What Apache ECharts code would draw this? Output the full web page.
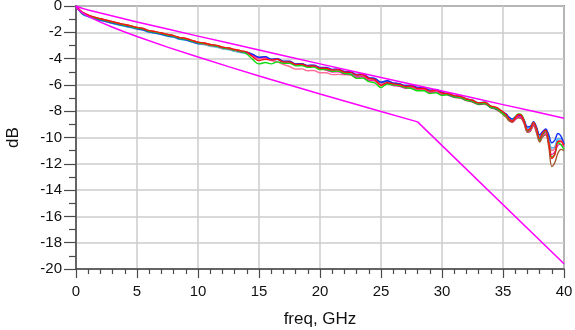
<!DOCTYPE html>
<html>
<head>
<meta charset="utf-8">
<script src="https://cdn.jsdelivr.net/npm/echarts@6/dist/echarts.min.js"></script>
<style>
  html, body { margin: 0; padding: 0; background: #ffffff; }
  #chart { width: 575px; height: 330px; }
</style>
</head>
<body>
<div id="chart"></div>
<script>
// Insertion loss sweeps (dB) versus frequency (GHz) with upper/lower limit masks
const FREQ = [0,0.5,1,1.5,2,2.5,3,3.5,4,4.5,5,5.5,6,6.5,7,7.5,8,8.5,9,9.5,10,10.5,11,11.5,12,12.5,13,13.5,14,14.5,15,15.5,16,16.5,17,17.5,18,18.5,19,19.5,20,20.5,21,21.5,22,22.5,23,23.5,24,24.5,25,25.5,26,26.5,27,27.5,28,28.5,29,29.5,30,30.5,31,31.5,32,32.5,33,33.5,34,34.25,34.5,34.75,35,35.25,35.5,35.75,36,36.25,36.5,36.75,37,37.25,37.5,37.75,38,38.25,38.5,38.75,39,39.25,39.5,39.75,40];

const lossRed = [0,-0.47,-0.69,-0.85,-0.97,-1.08,-1.20,-1.31,-1.41,-1.51,-1.63,-1.71,-1.87,-1.95,-2.05,-2.17,-2.25,-2.40,-2.47,-2.61,-2.75,-2.81,-2.93,-2.99,-3.13,-3.19,-3.31,-3.41,-3.50,-3.88,-4.15,-4.05,-4.10,-4.05,-4.25,-4.25,-4.45,-4.43,-4.57,-4.55,-4.73,-4.73,-4.87,-4.85,-5.03,-5.05,-5.25,-5.23,-5.50,-5.60,-6.05,-5.83,-5.92,-5.97,-6.12,-6.09,-6.27,-6.27,-6.47,-6.42,-6.62,-6.65,-6.82,-6.87,-7.07,-7.17,-7.37,-7.32,-7.62,-7.65,-7.72,-7.88,-8.05,-8.25,-8.6,-8.75,-8.5,-8.25,-8.3,-8.8,-9.45,-9.3,-8.85,-9.35,-10.1,-9.65,-9.45,-10.4,-11.6,-11.3,-10.3,-10.3,-10.6];

const lossGreen = [0,-0.52,-0.74,-0.90,-1.02,-1.13,-1.25,-1.36,-1.46,-1.56,-1.68,-1.76,-1.92,-2.00,-2.10,-2.22,-2.30,-2.45,-2.52,-2.66,-2.80,-2.86,-2.98,-3.04,-3.18,-3.24,-3.36,-3.46,-3.65,-4.08,-4.40,-4.30,-4.40,-4.25,-4.35,-4.35,-4.55,-4.53,-4.67,-4.65,-4.83,-4.83,-4.97,-4.95,-5.13,-5.20,-5.50,-5.48,-5.75,-5.85,-6.20,-5.93,-6.00,-6.05,-6.20,-6.27,-6.45,-6.45,-6.65,-6.60,-6.80,-6.73,-6.90,-6.95,-7.15,-7.25,-7.45,-7.40,-7.70,-7.75,-7.82,-7.98,-8.2,-8.35,-8.65,-8.75,-8.45,-8.2,-8.25,-8.75,-9.5,-9.35,-8.85,-9.35,-10.2,-9.75,-9.5,-10.35,-11.5,-11.25,-10.4,-10.55,-10.9];

const lossBlue = [0,-0.57,-0.79,-0.95,-1.07,-1.18,-1.30,-1.41,-1.51,-1.61,-1.73,-1.81,-1.97,-2.05,-2.15,-2.27,-2.35,-2.50,-2.57,-2.71,-2.85,-2.86,-2.98,-3.04,-3.18,-3.24,-3.36,-3.46,-3.55,-3.68,-3.90,-3.85,-4.05,-4.00,-4.20,-4.20,-4.40,-4.38,-4.52,-4.50,-4.68,-4.68,-4.82,-4.80,-4.98,-5.00,-5.20,-5.18,-5.45,-5.50,-5.80,-5.68,-5.85,-5.90,-6.05,-6.02,-6.20,-6.20,-6.40,-6.35,-6.55,-6.73,-6.90,-6.95,-7.15,-7.25,-7.45,-7.40,-7.70,-7.75,-7.85,-7.95,-8.1,-8.2,-8.45,-8.6,-8.45,-8.3,-8.35,-8.7,-9.2,-9.15,-8.8,-9.2,-9.8,-9.55,-9.35,-9.8,-10.4,-10.2,-9.7,-9.9,-10.5];

const lossCyan = [0,-0.60,-0.82,-0.98,-1.10,-1.21,-1.33,-1.44,-1.54,-1.64,-1.76,-1.84,-2.00,-2.08,-2.18,-2.30,-2.38,-2.53,-2.60,-2.74,-2.88,-2.94,-3.06,-3.12,-3.26,-3.32,-3.44,-3.54,-3.63,-3.73,-3.95,-3.90,-4.10,-4.05,-4.25,-4.25,-4.45,-4.43,-4.57,-4.55,-4.73,-4.83,-4.97,-4.95,-5.13,-5.15,-5.35,-5.33,-5.60,-5.65,-5.95,-5.83,-6.00,-6.05,-6.20,-6.17,-6.35,-6.35,-6.55,-6.50,-6.70,-6.63,-6.80,-6.85,-7.05,-7.15,-7.35,-7.30,-7.60,-7.7,-7.8,-7.95,-8.15,-8.3,-8.5,-8.6,-8.45,-8.35,-8.4,-8.85,-9.4,-9.3,-9.0,-9.5,-10.0,-9.7,-9.6,-10.2,-11.0,-10.8,-10.2,-10.2,-10.4];

const lossMagenta = [0,-0.52,-0.74,-0.90,-1.02,-1.13,-1.25,-1.36,-1.46,-1.56,-1.68,-1.76,-1.92,-2.00,-2.10,-2.22,-2.30,-2.45,-2.52,-2.66,-2.80,-2.86,-2.98,-3.04,-3.18,-3.24,-3.36,-3.46,-3.55,-3.73,-3.95,-3.90,-4.10,-4.05,-4.25,-4.25,-4.45,-4.43,-4.57,-4.55,-4.73,-4.88,-5.02,-5.00,-5.18,-5.20,-5.40,-5.38,-5.65,-5.70,-6.00,-5.88,-6.05,-6.10,-6.25,-6.22,-6.40,-6.40,-6.60,-6.55,-6.75,-6.68,-6.85,-6.90,-7.10,-7.20,-7.40,-7.35,-7.65,-7.75,-7.8,-7.95,-8.15,-8.35,-8.65,-8.8,-8.6,-8.4,-8.45,-8.9,-9.55,-9.45,-9.0,-9.5,-10.2,-9.85,-9.6,-10.4,-11.3,-11.1,-10.6,-10.5,-10.7];

const lossBrown = [0,-0.47,-0.69,-0.85,-0.97,-1.08,-1.20,-1.31,-1.41,-1.51,-1.63,-1.71,-1.87,-1.95,-2.05,-2.17,-2.25,-2.40,-2.47,-2.61,-2.75,-2.81,-2.93,-2.99,-3.13,-3.19,-3.31,-3.41,-3.50,-3.70,-3.92,-3.87,-4.07,-4.02,-4.22,-4.22,-4.42,-4.40,-4.54,-4.52,-4.70,-4.70,-4.84,-4.82,-5.00,-5.02,-5.22,-5.20,-5.47,-5.52,-5.82,-5.70,-5.87,-5.92,-6.07,-6.04,-6.22,-6.22,-6.42,-6.37,-6.57,-6.78,-6.95,-7.00,-7.20,-7.30,-7.50,-7.45,-7.75,-7.8,-7.9,-8.05,-8.25,-8.45,-8.75,-8.85,-8.65,-8.5,-8.55,-9.0,-9.6,-9.5,-9.1,-9.65,-10.35,-9.95,-9.8,-10.7,-12.2,-11.9,-11.2,-10.9,-11.0];

const lossPink = [0,-0.57,-0.79,-0.95,-1.07,-1.18,-1.30,-1.41,-1.51,-1.61,-1.73,-1.81,-1.97,-2.05,-2.15,-2.27,-2.35,-2.50,-2.57,-2.71,-2.85,-2.91,-3.03,-3.09,-3.23,-3.29,-3.41,-3.51,-3.60,-3.83,-4.00,-3.95,-4.15,-4.25,-4.45,-4.60,-4.80,-4.78,-4.92,-4.90,-5.08,-5.08,-5.22,-5.20,-5.23,-5.25,-5.45,-5.33,-5.60,-5.65,-5.95,-5.83,-6.00,-6.05,-6.20,-6.17,-6.35,-6.35,-6.55,-6.50,-6.70,-6.68,-6.85,-6.90,-7.10,-7.20,-7.40,-7.35,-7.65,-7.7,-7.8,-7.95,-8.15,-8.3,-8.55,-8.7,-8.55,-8.4,-8.45,-8.9,-9.45,-9.35,-9.05,-9.55,-10.15,-9.8,-9.7,-10.35,-11.0,-10.8,-10.3,-10.2,-10.3];

const lossSky = [0,-0.52,-0.74,-0.90,-1.02,-1.13,-1.25,-1.36,-1.46,-1.56,-1.68,-1.76,-1.92,-2.00,-2.10,-2.22,-2.30,-2.45,-2.52,-2.66,-2.80,-2.86,-2.98,-3.04,-3.18,-3.24,-3.36,-3.46,-3.55,-3.73,-3.95,-3.90,-4.10,-4.05,-4.25,-4.25,-4.45,-4.43,-4.57,-4.55,-4.73,-4.73,-4.87,-4.85,-5.03,-5.05,-5.25,-5.23,-5.50,-5.55,-5.85,-5.78,-5.95,-6.00,-6.15,-6.12,-6.30,-6.30,-6.50,-6.45,-6.65,-6.68,-6.85,-6.90,-7.10,-7.20,-7.40,-7.35,-7.65,-7.7,-7.75,-7.9,-8.05,-8.2,-8.5,-8.6,-8.45,-8.3,-8.35,-8.75,-9.3,-9.2,-8.9,-9.3,-9.9,-9.6,-9.45,-10.1,-10.8,-10.7,-10.1,-10.1,-10.5];

// Limit masks: [freq, dB]
const upperLimit = [[0,0],[0.25,-0.10],[0.5,-0.17],[1,-0.30],[2,-0.54],[5,-1.21],[10,-2.29],[15,-3.35],[20,-4.40],[25,-5.44],[30,-6.47],[35,-7.50],[40,-8.53]];
const lowerLimit = [[0,0],[0.1,-0.20],[0.25,-0.34],[0.5,-0.51],[1,-0.79],[2,-1.23],[3,-1.62],[4,-1.98],[5,-2.32],[7.5,-3.13],[10,-3.88],[12.5,-4.61],[15,-5.32],[17.5,-6.01],[20,-6.69],[22.5,-7.36],[25,-8.03],[28,-8.81],[40,-19.6]];

// Trace drawing order: later entries sit on top
const traces = [
  { data: lossSky,     color: '#55aaff' },
  { data: lossCyan,    color: '#00d8e0' },
  { data: lossPink,    color: '#ff6f9a' },
  { data: lossBrown,   color: '#a5552a' },
  { data: lossMagenta, color: '#ff10b0' },
  { data: lossBlue,    color: '#1030ff' },
  { data: lossGreen,   color: '#10dd10' },
  { data: lossRed,     color: '#ff1010' }
];

const FONT = '"Liberation Sans", Arial, Helvetica, sans-serif';
const AXIS_DARK = '#4a4a4a';

const series = traces.map(t => ({
  type: 'line',
  data: FREQ.map((f, i) => [f, t.data[i]]),
  smooth: 0.35,
  symbol: 'none',
  lineStyle: { color: t.color, width: 1.4 },
  silent: true
}));

series.push({
  type: 'line', data: upperLimit, symbol: 'none', smooth: 0.2,
  lineStyle: { color: '#ff00ff', width: 1.5 }, silent: true
});
series.push({
  type: 'line', data: lowerLimit, symbol: 'none',
  lineStyle: { color: '#ff00ff', width: 1.5 }, silent: true
});

const chart = echarts.init(document.getElementById('chart'), null, { renderer: 'canvas' });
chart.setOption({
  backgroundColor: '#ffffff',
  animation: false,
  grid: {
    left: 76, right: 11, top: 6, bottom: 61,
    outerBoundsMode: 'none', containLabel: false,
    show: true, borderColor: AXIS_DARK, borderWidth: 1.5, backgroundColor: 'transparent'
  },
  xAxis: {
    type: 'value', min: 0, max: 40, interval: 5,
    name: 'freq, GHz', nameLocation: 'middle', nameGap: 42,
    nameTextStyle: { fontFamily: FONT, fontSize: 17, color: '#111' },
    axisLine: { onZero: false, lineStyle: { color: AXIS_DARK, width: 1.5 } },
    axisTick: { show: true, length: 9, lineStyle: { color: AXIS_DARK, width: 1.2 } },
    minorTick: { show: true, splitNumber: 5, length: 5, lineStyle: { color: AXIS_DARK, width: 1.2 } },
    axisLabel: { fontFamily: FONT, fontSize: 15, color: '#111', margin: 15 },
    splitLine: { show: true, lineStyle: { color: '#cccccc', width: 1.5 } }
  },
  yAxis: {
    type: 'value', min: -20, max: 0, interval: 2,
    name: 'dB', nameLocation: 'middle', nameGap: 54, nameRotate: 90,
    nameTextStyle: { fontFamily: FONT, fontSize: 17, color: '#111' },
    axisLine: { onZero: false, lineStyle: { color: AXIS_DARK, width: 1.5 } },
    axisTick: { show: true, length: 12, lineStyle: { color: AXIS_DARK, width: 1.2 } },
    minorTick: { show: true, splitNumber: 2, length: 7, lineStyle: { color: AXIS_DARK, width: 1.2 } },
    axisLabel: { fontFamily: FONT, fontSize: 15, color: '#111', margin: 14 },
    splitLine: { show: true, lineStyle: { color: '#cccccc', width: 1.5 } }
  },
  series: series
});
</script>
</body>
</html>
